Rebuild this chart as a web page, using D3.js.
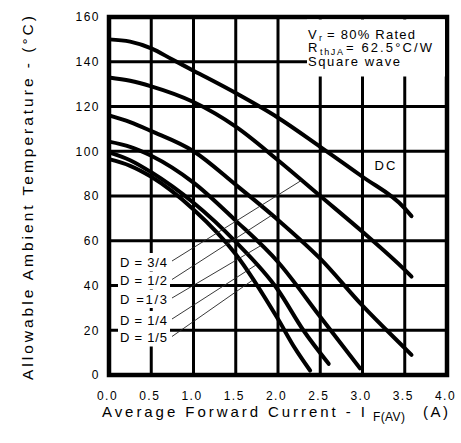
<!DOCTYPE html>
<html>
<head>
<meta charset="utf-8">
<script src="https://cdn.jsdelivr.net/npm/d3@7"></script>
<style>
  body { margin: 0; background: #fff; }
  text { font-family: "Liberation Sans", Arial, sans-serif; fill: #000; }
</style>
</head>
<body>
<svg id="chart" width="461" height="443"></svg>
<script>
//  axis ticks
var xTicks = [0, 0.5, 1.0, 1.5, 2.0, 2.5, 3.0, 3.5, 4.0];
var yTicks = [0, 20, 40, 60, 80, 100, 120, 140, 160];

//  curves (current in A, temperature in °C)
var seriesNames = ["DC", "D = 3/4", "D = 1/2", "D =1/3", "D = 1/4", "D = 1/5"];
var currentDC  = [0, 0.25, 0.5, 0.75, 1.0, 1.5, 2.0, 2.5, 3.0, 3.5, 3.58];
var tempDC     = [150, 149, 146, 141, 136, 126, 115, 102, 88.6, 74.5, 71];
var current34  = [0, 0.25, 0.5, 1.0, 1.5, 2.0, 2.5, 3.0, 3.5, 3.58];
var temp34     = [133, 131.5, 129, 122, 111, 96, 80, 64, 47, 44];
var current12  = [0, 0.25, 0.5, 1.0, 1.5, 2.0, 2.5, 3.0, 3.5, 3.58];
var temp12     = [116, 113, 109, 100, 85, 69.3, 52, 31, 12, 9];
var current13  = [0, 0.25, 0.5, 1.0, 1.5, 2.0, 2.5, 2.97];
var temp13     = [104.3, 102, 98, 86, 69, 50.5, 26, 3];
var current14  = [0, 0.25, 0.5, 1.0, 1.5, 2.0, 2.3, 2.6];
var temp14     = [99.5, 96, 90.6, 77, 59.5, 38, 20, 5];
var current15  = [0, 0.25, 0.5, 1.0, 1.5, 2.0, 2.2, 2.38];
var temp15     = [96.5, 93.5, 88.6, 74, 54, 25, 12, 2];

//  duty labels: where the leader line meets its curve (current)
var dutyLabels = ["D = 3/4", "D = 1/2", "D =1/3", "D = 1/4", "D = 1/5"];
var leaderEnd  = [2.28, 1.93, 1.8, 1.74, 1.7];

var svg = d3.select("#chart");
var x = d3.scaleLinear().domain([0, 4]).range([109, 447]);
var y = d3.scaleLinear().domain([0, 160]).range([375, 17]);

var series = [
  [currentDC, tempDC], [current34, temp34], [current12, temp12],
  [current13, temp13], [current14, temp14], [current15, temp15]
].map(function(s, i) {
  return { name: seriesNames[i], points: s[0].map(function(c, j) { return [c, s[1][j]]; }) };
});

//  grid
svg.append("g").selectAll("line")
  .data(xTicks.slice(1, -1))
  .join("line")
  .attr("x1", d => x(d)).attr("x2", d => x(d))
  .attr("y1", y(0)).attr("y2", y(160))
  .attr("stroke", "#000").attr("stroke-width", 3);
svg.append("g").selectAll("line")
  .data(yTicks.slice(1, -1))
  .join("line")
  .attr("y1", d => y(d)).attr("y2", d => y(d))
  .attr("x1", x(0)).attr("x2", x(4))
  .attr("stroke", "#000").attr("stroke-width", 3);

//  curves
var line = d3.line()
  .x(d => x(d[0]))
  .y(d => y(d[1]))
  .curve(d3.curveMonotoneX);

svg.append("g").selectAll("path")
  .data(series)
  .join("path")
  .attr("d", d => line(d.points))
  .attr("fill", "none")
  .attr("stroke", "#000")
  .attr("stroke-width", 4)
  .attr("stroke-linecap", "round");

//  frame
svg.append("rect")
  .attr("x", x(0)).attr("y", y(160))
  .attr("width", x(4) - x(0)).attr("height", y(0) - y(160))
  .attr("fill", "none").attr("stroke", "#000").attr("stroke-width", 4.5);

//  interpolate a curve's temperature at a given current
function tempAt(points, c) {
  var i = d3.bisector(d => d[0]).left(points, c);
  if (i <= 0) return points[0][1];
  var a = points[i - 1], b = points[i];
  return a[1] + (b[1] - a[1]) * (c - a[0]) / (b[0] - a[0]);
}

//  duty labels with leader lines
var labelY = [262, 280.5, 299, 320, 337.5];
var labels = svg.append("g");
dutyLabels.forEach(function(lbl, i) {
  var target = series[i + 1].points;
  labels.append("line")
    .attr("x1", 172).attr("y1", labelY[i] - 1)
    .attr("x2", x(leaderEnd[i])).attr("y2", y(tempAt(target, leaderEnd[i])))
    .attr("stroke", "#222").attr("stroke-width", 0.9);
});
dutyLabels.forEach(function(lbl, i) {
  labels.append("rect")
    .attr("x", 118).attr("y", labelY[i] - 9)
    .attr("width", 52).attr("height", 18)
    .attr("fill", "#fff");
});
dutyLabels.forEach(function(lbl, i) {
  labels.append("text")
    .attr("x", 120).attr("y", labelY[i])
    .attr("dy", "0.36em")
    .attr("font-size", 13)
    .attr("textLength", 47).attr("lengthAdjust", "spacing")
    .text(lbl);
});

//  DC label
svg.append("text")
  .attr("x", 386).attr("y", 170)
  .attr("text-anchor", "middle")
  .attr("font-size", 13)
  .attr("letter-spacing", 2)
  .text("DC");

//  conditions box
svg.append("rect")
  .attr("x", 307).attr("y", 19.5)
  .attr("width", 138).attr("height", 57)
  .attr("fill", "#fff");
var info = svg.append("g").attr("font-size", 13);
info.append("text").attr("x", 308).attr("y", 38.5).text("V");
info.append("text").attr("x", 319).attr("y", 41).attr("font-size", 9).text("r");
info.append("text").attr("x", 327).attr("y", 38.5)
  .attr("textLength", 88).attr("lengthAdjust", "spacing").text("= 80% Rated");
info.append("text").attr("x", 308).attr("y", 52).text("R");
info.append("text").attr("x", 320).attr("y", 54.5).attr("font-size", 9)
  .attr("textLength", 23).attr("lengthAdjust", "spacing").text("thJA");
info.append("text").attr("x", 346).attr("y", 52)
  .attr("textLength", 86).attr("lengthAdjust", "spacing").text("= 62.5°C/W");
info.append("text").attr("x", 308).attr("y", 66)
  .attr("textLength", 92).attr("lengthAdjust", "spacing")
  .text("Square wave");

//  axes
var yAxis = svg.append("g")
  .attr("transform", "translate(" + x(0) + ",0)")
  .call(d3.axisLeft(y).tickValues(yTicks).tickSize(0).tickPadding(9).tickFormat(d3.format("d")));
var xAxis = svg.append("g")
  .attr("transform", "translate(-2," + y(0) + ")")
  .call(d3.axisBottom(x).tickValues(xTicks).tickSize(0).tickPadding(16.5).tickFormat(d3.format(".1f")));
[yAxis, xAxis].forEach(function(a) {
  a.select(".domain").remove();
  a.selectAll("text")
    .attr("font-family", "Liberation Sans, Arial, sans-serif")
    .attr("font-size", 12)
    .attr("letter-spacing", 1.5)
    .attr("fill", "#000");
});

//  axis titles
svg.append("text")
  .attr("x", 102).attr("y", 417)
  .attr("font-size", 15)
  .attr("textLength", 263).attr("lengthAdjust", "spacing")
  .text("Average Forward Current - I");
svg.append("text")
  .attr("x", 373).attr("y", 421)
  .attr("font-size", 12)
  .attr("textLength", 32).attr("lengthAdjust", "spacing")
  .text("F(AV)");
svg.append("text")
  .attr("x", 423).attr("y", 417)
  .attr("font-size", 15)
  .attr("textLength", 25).attr("lengthAdjust", "spacing")
  .text("(A)");

svg.append("text")
  .attr("transform", "translate(33,380) rotate(-90)")
  .attr("font-size", 15.5)
  .attr("textLength", 364).attr("lengthAdjust", "spacing")
  .text("Allowable Ambient Temperature - (°C)");
</script>
</body>
</html>
